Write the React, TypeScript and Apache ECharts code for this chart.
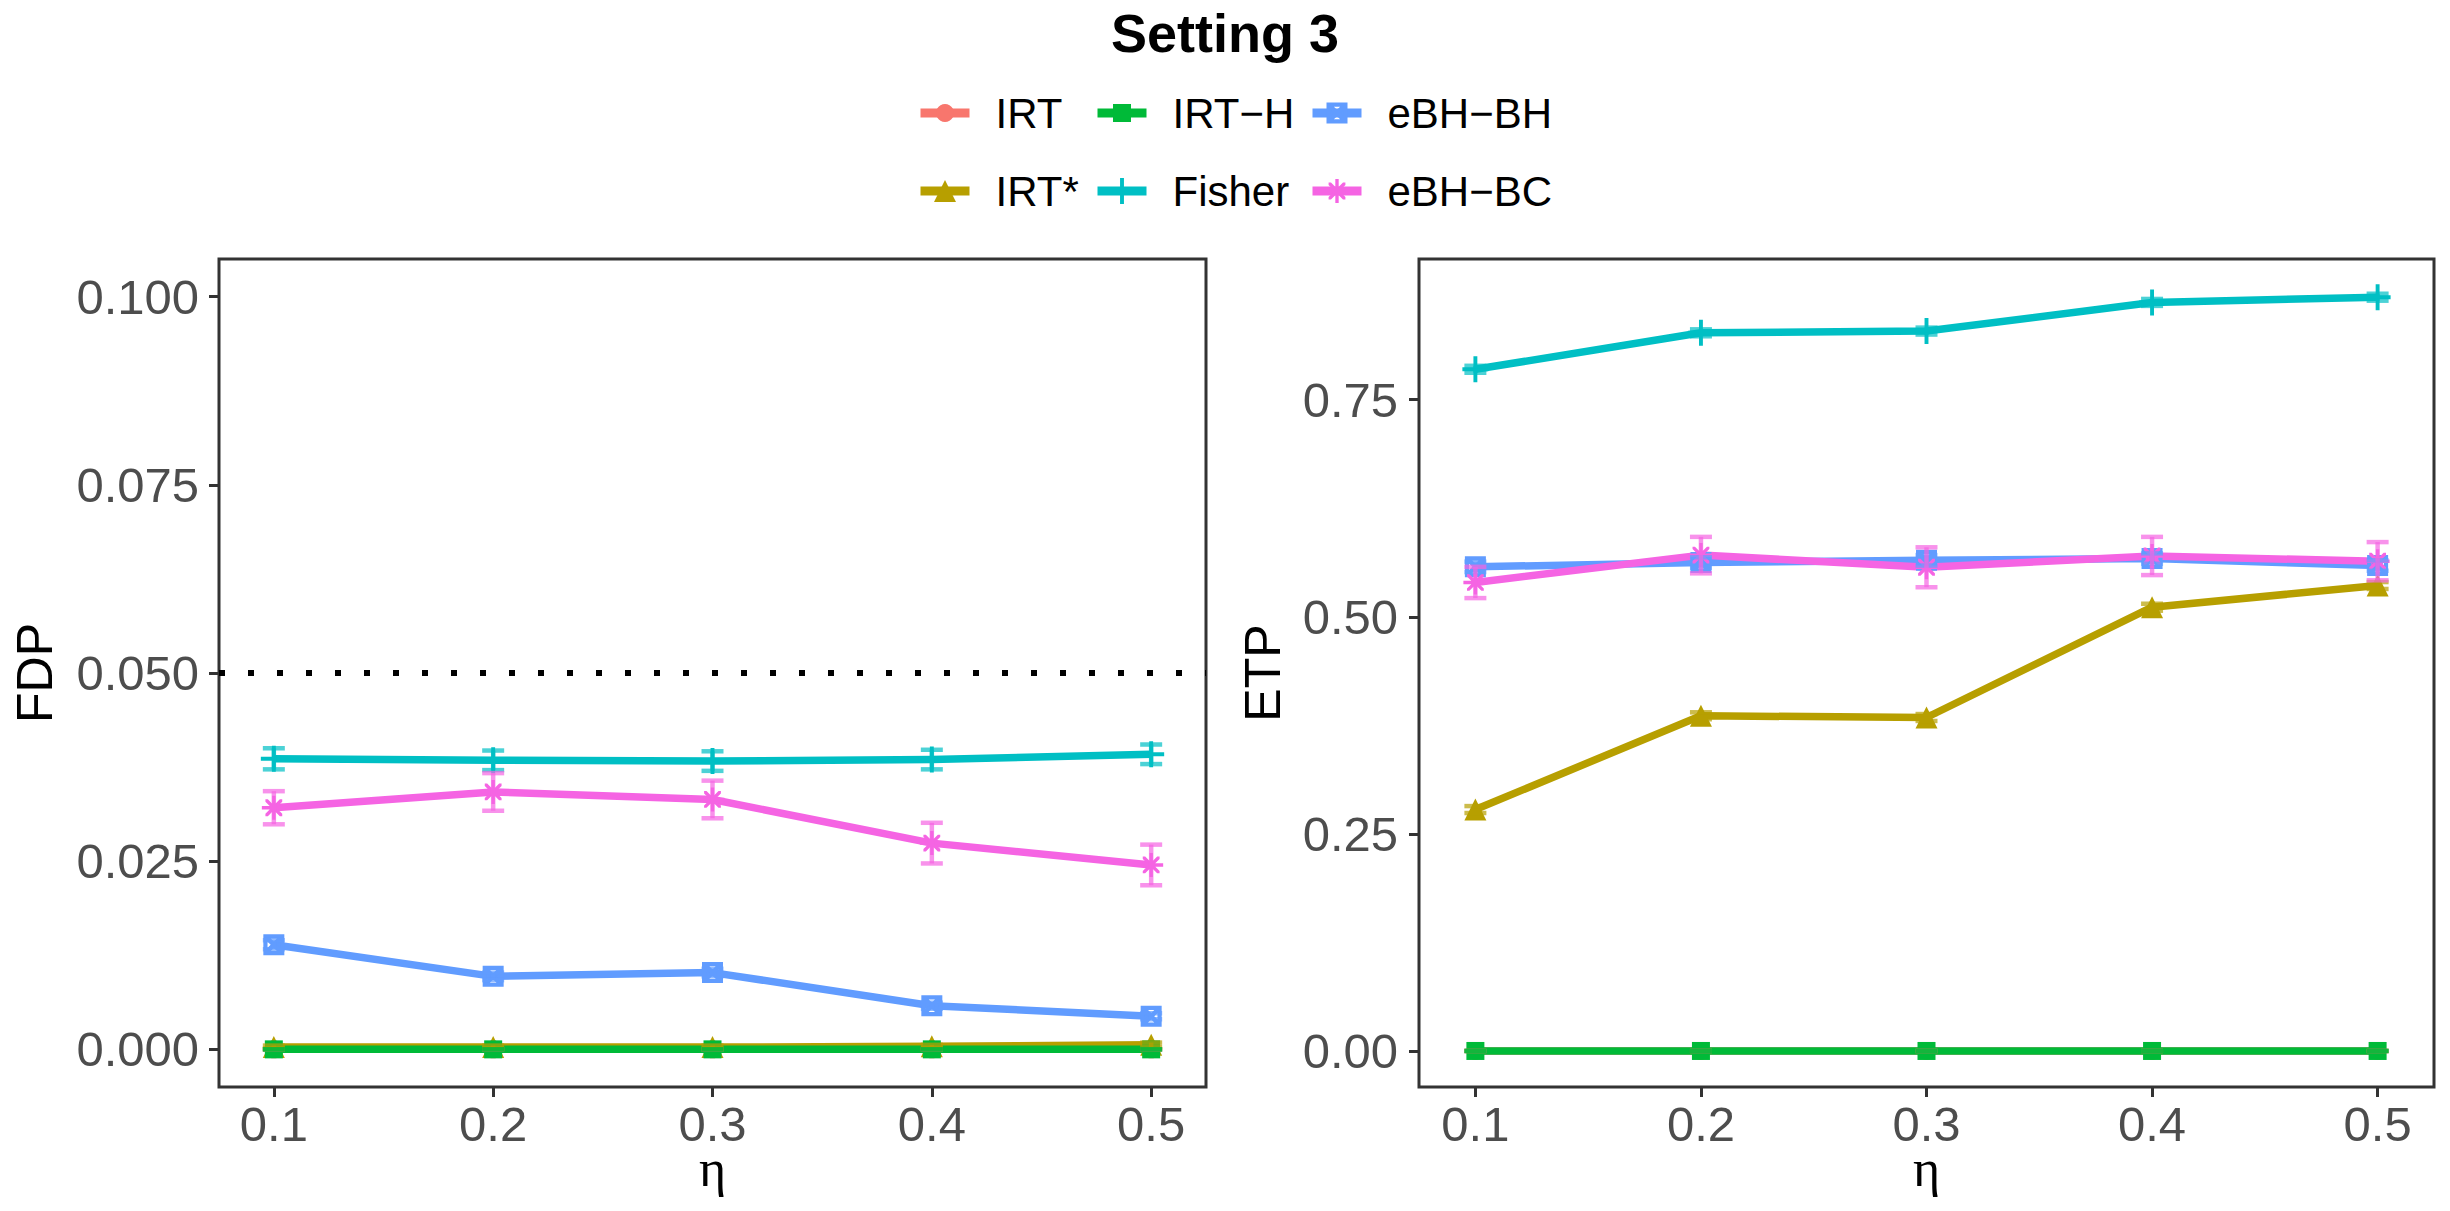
import React, { useEffect, useRef } from 'react';
import * as echarts from 'echarts';

// ---------------- data ----------------
const etaValues = [0.1, 0.2, 0.3, 0.4, 0.5];
const etaTicks = [0.1, 0.2, 0.3, 0.4, 0.5];
const fdpTicks = [0, 0.025, 0.05, 0.075, 0.1];
const etpTicks = [0, 0.25, 0.5, 0.75];
const fdpTarget = 0.05;

const methodNames = ['IRT', 'IRT*', 'IRT−H', 'Fisher', 'eBH−BH', 'eBH−BC'];
const methodColors = ['#F8766D', '#B79F00', '#00BA38', '#00BFC4', '#619CFF', '#F564E3'];

// FDP panel
const fdpIRT = [0, 0, 0, 0, 0];
const fdpIRTstar = [0.0003, 0.0003, 0.0003, 0.0004, 0.0006];
const fdpIRTH = [0, 0, 0, 0, 0];
const fdpFisher = [0.0386, 0.0384, 0.0383, 0.0385, 0.0392];
const fdpEBHBH = [0.0139, 0.0097, 0.0102, 0.0058, 0.0044];
const fdpEBHBC = [0.0321, 0.0342, 0.0332, 0.0274, 0.0245];

const fdpErrIRT = [0, 0, 0, 0, 0];
const fdpErrIRTstar = [0.0002, 0.0002, 0.0002, 0.0002, 0.0003];
const fdpErrIRTH = [0, 0, 0, 0, 0];
const fdpErrFisher = [0.0014, 0.0013, 0.0013, 0.0013, 0.0013];
const fdpErrEBHBH = [0.0006, 0.0005, 0.0005, 0.0004, 0.0004];
const fdpErrEBHBC = [0.0022, 0.0025, 0.0025, 0.0027, 0.0027];

// ETP panel
const etpIRT = [0, 0, 0, 0, 0];
const etpIRTstar = [0.278, 0.386, 0.384, 0.511, 0.536];
const etpIRTH = [0, 0, 0, 0, 0];
const etpFisher = [0.785, 0.827, 0.829, 0.862, 0.868];
const etpEBHBH = [0.5575, 0.5625, 0.565, 0.567, 0.559];
const etpEBHBC = [0.5395, 0.571, 0.557, 0.570, 0.564];

const etpErrIRT = [0, 0, 0, 0, 0];
const etpErrIRTstar = [0.004, 0.004, 0.004, 0.004, 0.004];
const etpErrIRTH = [0, 0, 0, 0, 0];
const etpErrFisher = [0.004, 0.004, 0.004, 0.004, 0.004];
const etpErrEBHBH = [0.006, 0.006, 0.006, 0.006, 0.006];
const etpErrEBHBC = [0.018, 0.021, 0.023, 0.022, 0.022];

const fdpValues = [fdpIRT, fdpIRTstar, fdpIRTH, fdpFisher, fdpEBHBH, fdpEBHBC];
const fdpErrors = [fdpErrIRT, fdpErrIRTstar, fdpErrIRTH, fdpErrFisher, fdpErrEBHBH, fdpErrEBHBC];
const etpValues = [etpIRT, etpIRTstar, etpIRTH, etpFisher, etpEBHBH, etpEBHBC];
const etpErrors = [etpErrIRT, etpErrIRTstar, etpErrIRTH, etpErrFisher, etpErrEBHBH, etpErrEBHBC];

// ---------------- styles ----------------
const FONT = "'Liberation Sans', Arial, Helvetica, sans-serif";

const plusPath = 'path://M8.5,0 H11.5 V8.5 H20 V11.5 H11.5 V20 H8.5 V11.5 H0 V8.5 H8.5 Z';
const boxXPath =
  'path://M0,0 H20 V20 H0 Z M4,4 V16 H16 V4 Z ' +
  'M0,0 L3,0 L20,17 L20,20 L17,20 L0,3 Z ' +
  'M20,0 L20,3 L3,20 L0,20 L0,17 L17,0 Z';
const asteriskPath =
  'path://M8.6,0 H11.4 V8.6 H20 V11.4 H11.4 V20 H8.6 V11.4 H0 V8.6 H8.6 Z ' +
  'M3,3 L5,3 L17,15 L17,17 L15,17 L3,5 Z ' +
  'M17,3 L17,5 L5,17 L3,17 L3,15 L15,3 Z';

const methodSymbols = ['circle', 'triangle', 'rect', plusPath, boxXPath, asteriskPath];
const methodSymbolSizes = [18, 22, 18, 26, 21, 24];
const legendPositions = [
  [916, 92],
  [916, 170],
  [1093, 92],
  [1093, 170],
  [1308, 92],
  [1308, 170],
];

function hexToRgba(hex: string, a: number) {
  const r = parseInt(hex.slice(1, 3), 16);
  const g = parseInt(hex.slice(3, 5), 16);
  const b = parseInt(hex.slice(5, 7), 16);
  return `rgba(${r},${g},${b},${a})`;
}

function lineSeries(i: number, panel: number, vals: number[]) {
  const s: any = {
    type: 'line',
    name: methodNames[i],
    xAxisIndex: panel,
    yAxisIndex: panel,
    data: etaValues.map((x, k) => [x, vals[k]]),
    symbol: methodSymbols[i],
    symbolSize: methodSymbolSizes[i],
    showSymbol: true,
    showAllSymbol: true,
    lineStyle: { width: 7.5, color: methodColors[i], cap: 'butt', join: 'round' },
    itemStyle: { color: methodColors[i], borderWidth: 0 },
    emphasis: { disabled: true },
    z: 2,
    silent: true,
  };
  return s;
}

function errorSeries(i: number, panel: number, vals: number[], errs: number[]) {
  const color = hexToRgba(methodColors[i], 0.7);
  return {
    type: 'custom',
    name: methodNames[i],
    xAxisIndex: panel,
    yAxisIndex: panel,
    z: 3,
    silent: true,
    data: etaValues.map((x, k) => [x, vals[k] - errs[k], vals[k] + errs[k]]),
    encode: { x: 0, y: [1, 2] },
    renderItem: (params: any, api: any) => {
      const x = api.value(0);
      const lo = api.coord([x, api.value(1)]);
      const hi = api.coord([x, api.value(2)]);
      const hw = 11;
      const style = { stroke: color, lineWidth: 4.5, fill: null };
      return {
        type: 'group',
        children: [
          { type: 'line', shape: { x1: lo[0], y1: lo[1], x2: hi[0], y2: hi[1] }, style },
          { type: 'line', shape: { x1: lo[0] - hw, y1: lo[1], x2: lo[0] + hw, y2: lo[1] }, style },
          { type: 'line', shape: { x1: hi[0] - hw, y1: hi[1], x2: hi[0] + hw, y2: hi[1] }, style },
        ],
      };
    },
  };
}

function xAxisFor(panel: number) {
  return {
    type: 'value',
    gridIndex: panel,
    min: 0.075,
    max: 0.525,
    axisLine: { show: false, onZero: false },
    axisTick: { show: true, length: 10, lineStyle: { color: '#333333', width: 3 }, customValues: etaTicks },
    axisLabel: {
      customValues: etaTicks,
      formatter: (v: number) => v.toFixed(1),
      fontSize: 49,
      lineHeight: 40,
      color: '#4D4D4D',
      fontFamily: FONT,
      margin: 17,
    },
    splitLine: { show: false },
  };
}

function yAxisFor(panel: number, min: number, max: number, ticks: number[], digits: number, margin: number) {
  return {
    type: 'value',
    gridIndex: panel,
    min,
    max,
    axisLine: { show: false, onZero: false },
    axisTick: { show: true, length: 10, lineStyle: { color: '#333333', width: 3 }, customValues: ticks },
    axisLabel: {
      customValues: ticks,
      formatter: (v: number) => v.toFixed(digits),
      fontSize: 49,
      color: '#4D4D4D',
      fontFamily: FONT,
      margin,
    },
    splitLine: { show: false },
  };
}

function buildOption() {
  const series: any[] = [];
  // lines + points
  methodNames.forEach((_, i) => {
    const s = lineSeries(i, 0, fdpValues[i]);
    if (i === 0) {
      s.markLine = {
        silent: true,
        symbol: ['none', 'none'],
        label: { show: false },
        emphasis: { disabled: true },
        lineStyle: { color: '#000000', width: 6, type: [6, 23], cap: 'butt' },
        data: [{ yAxis: fdpTarget }],
      };
    }
    series.push(s);
  });
  methodNames.forEach((_, i) => series.push(lineSeries(i, 1, etpValues[i])));
  // error bars
  methodNames.forEach((_, i) => series.push(errorSeries(i, 0, fdpValues[i], fdpErrors[i])));
  methodNames.forEach((_, i) => series.push(errorSeries(i, 1, etpValues[i], etpErrors[i])));

  const legends = methodNames.map((name, i) => ({
    data: [name],
    left: legendPositions[i][0],
    top: legendPositions[i][1],
    padding: 0,
    itemGap: 0,
    itemWidth: 49,
    itemHeight: methodSymbolSizes[i] / 0.8,
    lineStyle: { width: 9, cap: 'butt' },
    textStyle: { fontSize: 42, color: '#000000', fontFamily: FONT, lineHeight: 42, padding: [0, 0, 0, 21] },
  }));

  const etaStyle = {
    text: 'η',
    fontSize: 52,
    lineHeight: 40,
    fontFamily: "'Liberation Serif', 'DejaVu Serif', serif",
    fill: '#000000',
    align: 'center',
    verticalAlign: 'middle',
  };

  return {
    animation: false,
    backgroundColor: '#FFFFFF',
    title: {
      text: 'Setting 3',
      left: 'center',
      top: 6,
      padding: 0,
      textStyle: { fontSize: 54, fontWeight: 'bold', color: '#000000', fontFamily: FONT, lineHeight: 54 },
    },
    legend: legends,
    grid: [
      {
        left: 219, top: 259, width: 987, height: 828,
        show: true, borderColor: '#333333', borderWidth: 3, backgroundColor: 'transparent',
        outerBoundsMode: 'none',
      },
      {
        left: 1419, top: 259, width: 1015, height: 828,
        show: true, borderColor: '#333333', borderWidth: 3, backgroundColor: 'transparent',
        outerBoundsMode: 'none',
      },
    ],
    xAxis: [xAxisFor(0), xAxisFor(1)],
    yAxis: [
      yAxisFor(0, -0.005, 0.105, fdpTicks, 3, 20),
      yAxisFor(1, -0.0415, 0.912, etpTicks, 2, 21),
    ],
    graphic: [
      {
        type: 'text', x: 35, y: 673, rotation: Math.PI / 2,
        style: { text: 'FDP', fontSize: 50, fontFamily: FONT, fill: '#000000', align: 'center', verticalAlign: 'middle' },
      },
      {
        type: 'text', x: 1263, y: 673, rotation: Math.PI / 2,
        style: { text: 'ETP', fontSize: 50, fontFamily: FONT, fill: '#000000', align: 'center', verticalAlign: 'middle' },
      },
      { type: 'text', x: 712.5, y: 1168, style: etaStyle },
      { type: 'text', x: 1926.5, y: 1168, style: etaStyle },
    ],
    series,
  };
}

export default function App() {
  const ref = useRef<HTMLDivElement>(null);
  useEffect(() => {
    if (!ref.current) return;
    const chart = echarts.init(ref.current, undefined, { renderer: 'svg' });
    chart.setOption(buildOption() as any);
    return () => chart.dispose();
  }, []);
  return (
    <div
      ref={ref}
      style={{ position: 'fixed', left: 0, top: 0, width: '2450px', height: '1211px', background: '#fff' }}
    />
  );
}
